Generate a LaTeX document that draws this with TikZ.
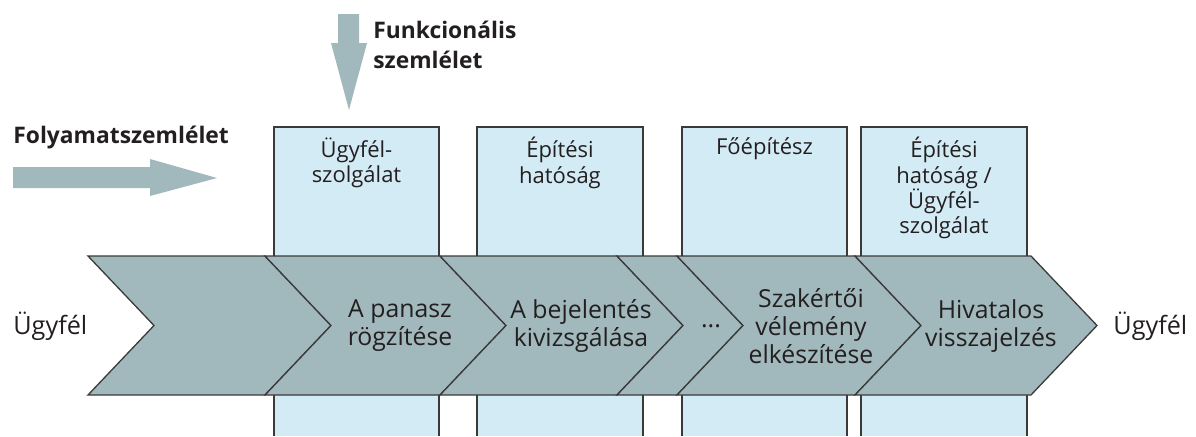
\documentclass[tikz,border=0pt]{standalone}
\usepackage{fontspec}
\setmainfont{Open Sans}
\usepackage{xcolor}
\usetikzlibrary{positioning}
\definecolor{chevgray}{HTML}{A1B8BC}
\definecolor{deptblue}{HTML}{D3EBF5}
\definecolor{edgegray}{HTML}{3A3A3A}
\definecolor{inkblack}{HTML}{231F20}

\begin{document}
\begin{tikzpicture}[x=0.5pt, y=-0.5pt,
        chevron/.style={fill=chevgray, draw=edgegray, line width=0.65pt, line join=miter},
        dept/.style={fill=deptblue},
        deptedge/.style={draw=edgegray, line width=0.65pt},
        depttext/.style={anchor=north, inner sep=0pt, align=center, text=inkblack, font=\fontsize{11}{12.6}\selectfont},
        stagetext/.style={inner sep=0pt, align=center, text=inkblack, font=\fontsize{12.4}{14}\selectfont},
        viewtext/.style={inner sep=0pt, align=left, text=inkblack, font=\fontsize{11.4}{15}\selectfont\bfseries},
        endtext/.style={anchor=base west, inner sep=0pt, text=inkblack, font=\fontsize{12.6}{15}\selectfont}]
        \useasboundingbox (0, 0) rectangle (1196, 436);

        \fill[dept] (274, 127) rectangle (439, 436);
        \fill[dept] (477, 127) rectangle (643, 436);
        \fill[dept] (682, 127) rectangle (847, 436);
        \fill[dept] (861, 127) rectangle (1027, 436);
        \draw[deptedge] (274, 436) -- (274, 127) -- (439, 127) -- (439, 436);
        \draw[deptedge] (477, 436) -- (477, 127) -- (643, 127) -- (643, 436);
        \draw[deptedge] (682, 436) -- (682, 127) -- (847, 127) -- (847, 436);
        \draw[deptedge] (861, 436) -- (861, 127) -- (1027, 127) -- (1027, 436);

        \node[depttext] at (356.5, 137) (d_ugyfel) {Ügyfél-\\szolgálat};
        \node[depttext] at (560, 137) (d_epitesi) {Építési\\hatóság};
        \node[depttext] at (764.5, 137) (d_foepitesz) {Főépítész};
        \node[depttext] at (944, 137) (d_vegso) {Építési\\hatóság /\\Ügyfél-\\szolgálat};

        \filldraw[chevron] (88, 256) -- (265, 256) -- (331, 325.5) -- (265, 395) -- (88, 395) -- (154, 325.5) -- cycle;
        \filldraw[chevron] (265, 256) -- (440, 256) -- (506, 325.5) -- (440, 395) -- (265, 395) -- (331, 325.5) -- cycle;
        \filldraw[chevron] (440, 256) -- (617, 256) -- (683, 325.5) -- (617, 395) -- (440, 395) -- (506, 325.5) -- cycle;
        \filldraw[chevron] (617, 256) -- (677, 256) -- (743, 325.5) -- (677, 395) -- (617, 395) -- (683, 325.5) -- cycle;
        \filldraw[chevron] (677, 256) -- (855, 256) -- (921, 325.5) -- (855, 395) -- (677, 395) -- (743, 325.5) -- cycle;
        \filldraw[chevron] (855, 256) -- (1031, 256) -- (1097, 325.5) -- (1031, 395) -- (855, 395) -- (921, 325.5) -- cycle;

        \node[stagetext] at (400, 326) (s_rogzites) {A panasz\\rögzítése};
        \node[stagetext] at (581, 326) (s_vizsgalat) {A bejelentés\\kivizsgálása};
        \node[stagetext] at (711, 326) (s_tobbi) {...};
        \node[stagetext] at (811, 326) (s_szakerto) {Szakértői\\vélemény\\elkészítése};
        \node[stagetext] at (991, 326) (s_valasz) {Hivatalos\\visszajelzés};

        \node[endtext] at (13, 334) (ugyfel_be) {Ügyfél};
        \node[endtext] at (1113, 334) (ugyfel_ki) {Ügyfél};

        \fill[chevgray] (338, 14) -- (359, 14) -- (359, 43) -- (367, 43) -- (349, 110) -- (331, 43) -- (338, 43) -- cycle;
        \fill[chevgray] (13, 167) -- (150, 167) -- (150, 159) -- (217, 178) -- (150, 196) -- (150, 188) -- (13, 188) -- cycle;

        \node[viewtext, anchor=north west] at (373, 21) (funkcionalis) {Funkcionális\\szemlélet};
        \node[viewtext, anchor=base west] at (13, 143) (folyamat) {Folyamatszemlélet};
    \end{tikzpicture}
\end{document}
